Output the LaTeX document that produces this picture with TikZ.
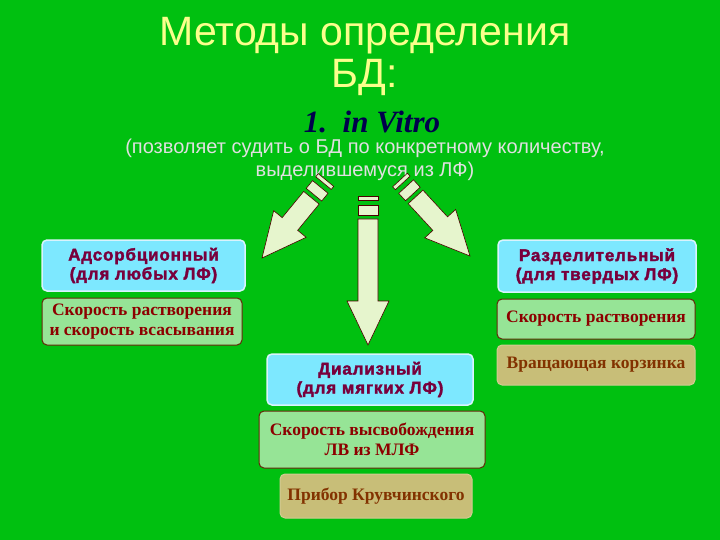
\documentclass[tikz,border=0pt]{standalone}
\usepackage{fontspec}
\setmainfont{Liberation Serif}
\setsansfont{Liberation Sans}
\newfontfamily\widesans[LetterSpace=5,FakeBold=2]{Liberation Sans Bold}
\usetikzlibrary{calc}
\definecolor{bg}{RGB}{0,192,16}
\definecolor{ttl}{RGB}{250,255,140}
\definecolor{cyanf}{RGB}{125,232,255}
\definecolor{cyant}{RGB}{120,0,60}
\definecolor{grf}{RGB}{150,228,150}
\definecolor{grt}{RGB}{140,0,0}
\definecolor{grd}{RGB}{100,40,10}
\definecolor{tanf}{RGB}{200,190,120}
\definecolor{tant}{RGB}{130,50,0}
\definecolor{arf}{RGB}{230,245,205}
\tikzset{
 cyanbox/.style={draw=white!85!cyan, line width=1.5pt, fill=cyanf, rounded corners=5pt, text=cyant, align=center, font=\widesans\fontsize{17}{19}\selectfont, inner sep=0pt},
 grbox/.style={draw=grd, line width=1pt, fill=grf, rounded corners=5pt, text=grt, align=center, font=\bfseries\fontsize{17.5}{20}\selectfont, inner sep=0pt},
 tanbox/.style={draw=tanf!80!white, line width=1pt, fill=tanf, rounded corners=5pt, text=tant, align=center, font=\bfseries\fontsize{17.5}{20}\selectfont, inner sep=0pt},
 arr/.style={fill=arf, draw=black!70!red, line width=0.6pt, line join=miter}
}
\newcommand\fatarrow[2]{%
 \coordinate (T) at #1; \coordinate (P) at #2;
 \coordinate (sa) at ($(T)!4pt!(P)$);
 \coordinate (sb) at ($(T)!9pt!(P)$);
 \coordinate (sc) at ($(T)!19pt!(P)$);
 \coordinate (sd) at ($(T)!23pt!(P)$);
 \coordinate (hb) at ($(P)!44pt!(T)$);
 \draw[arr] ($(T)!10pt!90:(P)$) -- ($(sa)!10pt!90:(P)$) -- ($(sa)!-10pt!90:(P)$) -- ($(T)!-10pt!90:(P)$) -- cycle;
 \draw[arr] ($(sb)!10pt!90:(P)$) -- ($(sc)!10pt!90:(P)$) -- ($(sc)!-10pt!90:(P)$) -- ($(sb)!-10pt!90:(P)$) -- cycle;
 \draw[arr] ($(sd)!10pt!90:(P)$) -- ($(hb)!10pt!90:(P)$) -- ($(hb)!21pt!90:(P)$) -- (P) -- ($(hb)!-21pt!90:(P)$) -- ($(hb)!-10pt!90:(P)$) -- ($(sd)!-10pt!90:(P)$) -- cycle;
}
\begin{document}
\begin{tikzpicture}[x=1pt,y=-1pt]
\fill[bg] (0,0) rectangle (720,540);
\useasboundingbox (0,0) rectangle (720,540);
\node (t1) at (365,36) {\sffamily\color{ttl}\fontsize{41}{44}\selectfont Методы определения};
\node (t2) at (365,77) {\sffamily\color{ttl}\fontsize{41}{44}\selectfont БД:};
\node (t3) at (372,122) {\color{blue!30!black}\bfseries\itshape\fontsize{31}{33}\selectfont 1.\ \ in Vitro};
\node[align=center, text=white!88!black, font=\sffamily\fontsize{20}{23}\selectfont] (t4) at (365,160) {(позволяет судить о БД по конкретному количеству,\\выделившемуся из ЛФ)};
\fatarrow{(326,180)}{(262,258)}
\fatarrow{(400,180)}{(470,256)}
\fatarrow{(368,196)}{(368,345)}
\node[cyanbox, minimum width=203pt, minimum height=51pt] (a) at (143.5,265.5) {Адсорбционный\\(для любых ЛФ)};
\node[grbox, minimum width=200pt, minimum height=47pt] (a2) at (142,321.5) {Скорость растворения\\и скорость всасывания};
\node[cyanbox, minimum width=198pt, minimum height=52pt] (r) at (597,266) {Разделительный\\(для твердых ЛФ)};
\node[grbox, minimum width=198pt, minimum height=40pt] (r2) at (596,319) {Скорость растворения};
\node[tanbox, minimum width=198pt, minimum height=40pt] (r3) at (596,365) {Вращающая корзинка};
\node[cyanbox, minimum width=206pt, minimum height=51pt] (d) at (370,379.5) {Диализный\\(для мягких ЛФ)};
\node[grbox, minimum width=226pt, minimum height=57pt] (d2) at (372,439.5) {Скорость высвобождения\\ЛВ из МЛФ};
\node[tanbox, minimum width=192pt, minimum height=44pt] (d3) at (376,496) {Прибор Крувчинского};
\end{tikzpicture}
\end{document}
